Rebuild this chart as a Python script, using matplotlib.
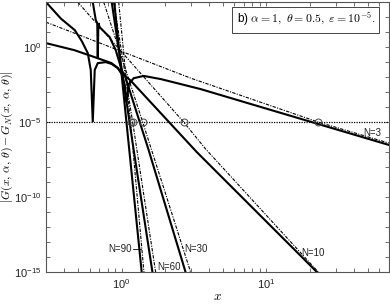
import matplotlib
matplotlib.use("Agg")
import matplotlib.pyplot as plt
from matplotlib.ticker import FixedLocator, NullFormatter, LogLocator

plt.rcParams["font.family"] = ["Liberation Sans", "DejaVu Sans"]
plt.rcParams["mathtext.fontset"] = "cm"

n3_x = [0.3, 0.47, 0.65, 0.85, 0.94, 1.0, 1.05, 1.08, 1.12, 1.21, 1.42, 1.86, 3.5, 7.8, 70]
n3_y = [1.85, 0.63, 0.215, 0.086, 0.04, 0.016, 3e-3, 2e-4, 3.4e-3, 8.5e-3, 1.2e-2, 7.4e-3, 1.6e-3, 1.6e-4, 3e-7]
n3b_x = [0.3, 3.0, 22.8, 70]
n3b_y = [46, 8.5e-3, 1e-5, 4e-7]

n10_x = [0.3, 0.38, 0.474, 0.53, 0.583, 0.611, 0.631, 0.651, 0.683, 0.776, 0.853, 0.94, 1.0, 1.15,
         3.3, 22.3]
n10_y = [1e3, 80, 13.6, 2.5, 0.4, 0.03, 1e-5, 0.03, 0.085, 0.1, 0.075, 0.04, 0.018, 6e-3,
         1e-7, 1e-15]
n10b_x = [0.497, 2.68, 3.8, 22.8]
n10b_y = [1e3, 1e-5, 1.6e-7, 1e-15]

n30_x = [0.631, 0.662, 0.678, 0.683, 0.69, 0.705, 0.826, 0.909, 1.0, 1.066, 1.535, 2.76]
n30_y = [1e3, 63, 40, 0.2, 40, 21, 4.6, 0.63, 0.03, 8.5e-3, 1.36e-7, 1e-15]
n30b_x = [0.751, 1.396, 2.99]
n30b_y = [1e3, 1e-5, 1e-15]

n60_x = [0.853, 1.21, 1.63]
n60_y = [1e3, 1.36e-7, 1e-15]
n60b_x = [0.881, 1.19, 1.715]
n60b_y = [1e3, 1e-5, 1e-15]

n90_x = [0.888, 1.374]
n90_y = [1e3, 1e-15]
n90b_x = [0.953, 1.15, 1.424]
n90b_y = [1e3, 1e-5, 1e-15]

eps = 1e-5
circle_x = [22.8, 2.68, 1.396, 1.19, 1.15]

fig = plt.figure(figsize=(3.9, 3.05), dpi=100)
ax = fig.add_axes([0.118, 0.108, 0.879, 0.885])

solid = dict(color="black", lw=1.5, solid_joinstyle="miter")
bound = dict(color="black", lw=0.8, dashes=(3, 1.2, 1, 1.2))

for xs, ys in [(n3_x, n3_y), (n10_x, n10_y), (n30_x, n30_y), (n60_x, n60_y), (n90_x, n90_y)]:
    ax.loglog(xs, ys, **solid)
for xs, ys in [(n3b_x, n3b_y), (n10b_x, n10b_y), (n30b_x, n30b_y), (n60b_x, n60b_y), (n90b_x, n90b_y)]:
    ax.loglog(xs, ys, **bound)

ax.axhline(eps, color="black", lw=0.9, ls=(0, (1, 1)))
ax.plot(circle_x, [eps] * len(circle_x), "o", ms=5, mfc="none", mec="#444444", mew=0.7)

ax.set_xlim(0.3, 70)
ax.set_ylim(1e-15, 1e3)

ax.yaxis.set_major_locator(FixedLocator([1e-15, 1e-10, 1e-5, 1e0]))
ax.yaxis.set_minor_locator(FixedLocator([10.0 ** k for k in range(-15, 4)]))
ax.yaxis.set_minor_formatter(NullFormatter())
ax.xaxis.set_major_locator(FixedLocator([1e0, 1e1]))
ax.xaxis.set_minor_locator(LogLocator(base=10, subs=range(2, 10)))
ax.xaxis.set_minor_formatter(NullFormatter())
ax.tick_params(which="both", direction="in", top=True, right=True, length=3, width=0.6,
               labelsize=8, color="#555555", labelcolor="#222222")
for s in ax.spines.values():
    s.set_color("#555555")
    s.set_linewidth(0.8)

ax.set_xlabel(r"$x$", fontsize=9.5)
ax.xaxis.set_label_coords(0.5, -0.072)
ax.set_ylabel(r"$|G(x,\,\alpha,\,\theta)-G_N(x,\,\alpha,\,\theta)|$", fontsize=8.5)
ax.yaxis.set_label_coords(-0.09, 0.5)

ax.text(0.758, 0.933, r"b) $\alpha=1,\ \theta=0.5,\ \varepsilon=10^{-5}$.", transform=ax.transAxes,
        ha="center", va="center", fontsize=8.5,
        bbox=dict(boxstyle="square,pad=0.35", fc="white", ec="#444444", lw=0.7))

lab = dict(fontsize=7, ha="center", va="center", color="#222222")
ax.text(54, 1.85e-6, "N=3", **lab)
ax.text(21, 10 ** -13.73, "N=10", **lab)
ax.text(3.24, 10 ** -13.47, "N=30", **lab)
ax.text(2.11, 10 ** -14.67, "N=60", **lab)
ax.text(0.98, 10 ** -13.47, "N=90", **lab)
ax.plot([1.2, 1.36], [10 ** -13.47] * 2, color="black", lw=0.6)

fig.savefig("out.png", dpi=100)
